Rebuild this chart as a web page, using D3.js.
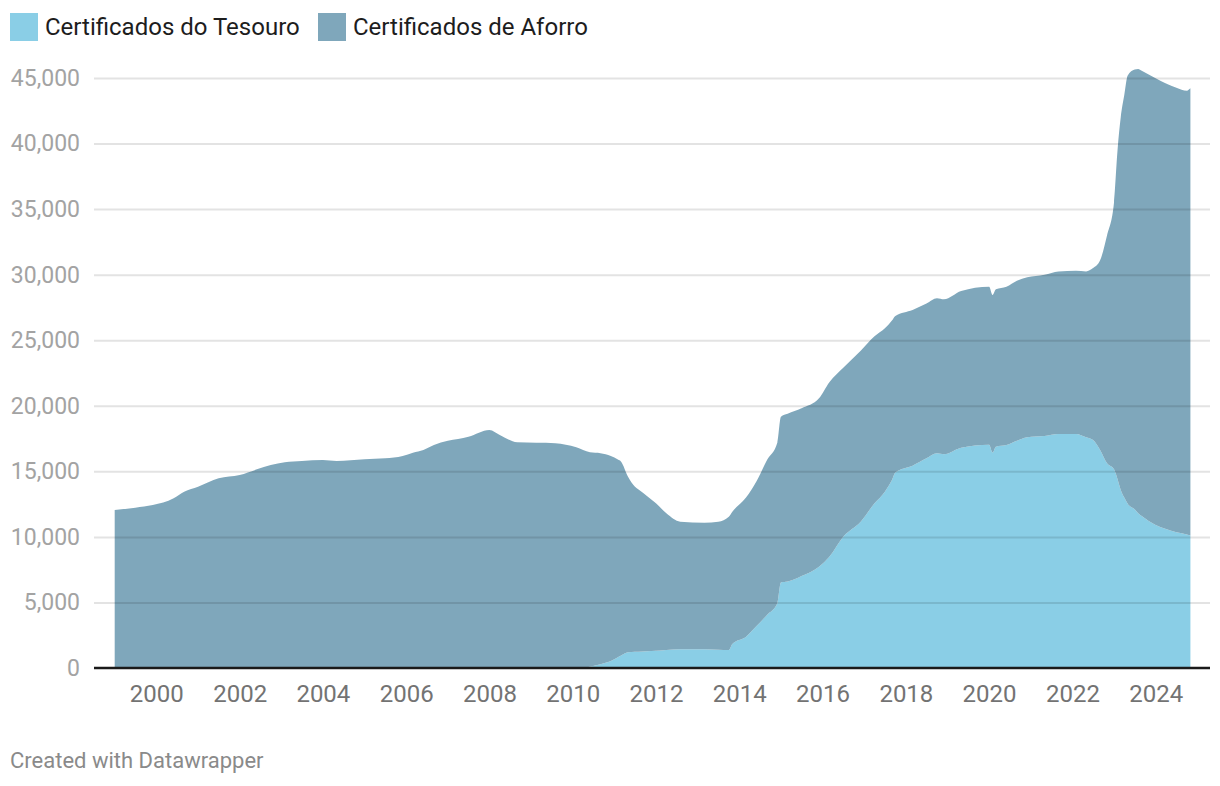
<!DOCTYPE html>
<html>
<head>
<meta charset="utf-8">
<script src="https://cdn.jsdelivr.net/npm/d3@7"></script>
<style>
  html, body { margin: 0; padding: 0; background: #fff; }
  svg { display: block; font-family: Roboto, "Noto Sans", sans-serif; }
</style>
</head>
<body>
<svg id="chart" width="1220" height="786"></svg>
<script>
// ---- data (millions of euros) ----
const dates = ["1999-01","1999-07","1999-12","2000-06","2000-09","2001-01","2001-07","2002-01","2002-06","2002-10",
  "2003-02","2003-07","2004-01","2004-05","2005-01","2005-07","2005-12","2006-03","2006-06","2006-09",
  "2007-01","2007-04","2007-07","2008-01","2008-04","2008-09","2009-08","2010-02","2010-06","2010-09",
  "2010-12","2011-02","2011-03","2011-05","2011-07","2011-08","2012-01","2012-04","2012-08","2013-03",
  "2013-07","2013-10","2013-11","2014-03","2014-06","2014-09","2014-12","2015-01","2015-03","2015-07",
  "2015-12","2016-03","2016-07","2016-12","2017-04","2017-07","2017-09","2017-10","2018-03","2018-07",
  "2018-10","2018-12","2019-05","2020-01","2020-02","2020-03","2020-06","2020-09","2020-12","2021-05",
  "2021-09","2022-02","2022-05","2022-07","2022-09","2022-11","2023-01","2023-02","2023-03","2023-04",
  "2023-05","2023-07","2023-08","2023-09","2024-01","2024-04","2024-07","2024-10","2024-11"];

const tesouro = [0,0,0,0,0,0,0,0,0,0,
  0,0,0,0,0,0,0,0,0,0,
  0,0,0,0,0,0,0,0,100,280,
  530,820,950,1200,1230,1240,1320,1380,1430,1430,
  1400,1370,1830,2390,3200,4040,4930,6520,6590,7020,
  7730,8490,10020,11160,12560,13450,14340,14920,15430,15990,
  16370,16300,16800,17030,16430,16880,17010,17340,17600,17700,
  17850,17850,17600,17390,16630,15610,15150,14400,13580,13000,
  12530,12100,11800,11600,10910,10600,10350,10180,10100];

const aforro = [12050,12230,12430,12940,13450,13830,14470,14720,15150,15480,
  15690,15790,15860,15790,15920,15990,16170,16420,16630,17010,
  17340,17470,17640,18150,17770,17210,17140,16830,16350,16100,
  15640,15080,14790,13390,12600,12380,11240,10420,9730,9650,
  9760,10170,10090,10610,11040,11820,12270,12650,12810,12790,
  12840,13310,12880,13040,12740,12460,12160,11930,11880,11810,
  11830,11820,11950,12050,12020,12000,12070,12200,12200,12300,
  12400,12450,12650,13110,14470,17390,20350,25100,28420,30700,
  32670,33550,33890,33960,34070,33990,33910,33850,34110];

const seriesNames = ["Certificados do Tesouro", "Certificados de Aforro"];
const seriesColors = ["#8acee6", "#7fa7bb"];
const yTicks = [0,5000,10000,15000,20000,25000,30000,35000,40000,45000];
const xTickYears = [2000,2002,2004,2006,2008,2010,2012,2014,2016,2018,2020,2022,2024];

// ---- build ----
const parse = d3.timeParse("%Y-%m");
const rows = dates.map((d, i) => ({ date: parse(d), tesouro: tesouro[i], aforro: aforro[i] }));
const keys = ["tesouro", "aforro"];
const stacked = d3.stack().keys(keys)(rows);

const svg = d3.select("#chart");

const x = d3.scaleTime()
  .domain(d3.extent(rows, d => d.date))
  .range([114.7, 1190.4]);
const y = d3.scaleLinear().domain([0, 45000]).range([668, 78]);

const area = d3.area()
  .x(d => x(d.data.date))
  .y0(d => y(d[0]))
  .y1(d => y(d[1]))
  .curve(d3.curveMonotoneX);

svg.append("g").selectAll("path")
  .data(stacked)
  .join("path")
  .attr("d", area)
  .attr("fill", (d, i) => seriesColors[i]);

// gridlines (drawn over areas, translucent)
const gAxisY = svg.append("g")
  .attr("transform", "translate(94,0)")
  .call(d3.axisRight(y).tickValues(yTicks.filter(v => v > 0)).tickSize(1210 - 94).tickFormat(""));
gAxisY.select(".domain").remove();
gAxisY.selectAll(".tick line").attr("stroke", "rgba(0,0,0,0.11)").attr("stroke-width", 2);

// y labels
const gLab = svg.append("g")
  .attr("transform", "translate(80,0)")
  .call(d3.axisLeft(y).tickValues(yTicks).tickSize(0).tickPadding(0).tickFormat(d3.format(",")));
gLab.select(".domain").remove();
gLab.selectAll("text")
  .attr("font-family", "Roboto, sans-serif")
  .attr("font-size", 23)
  .attr("fill", "#a3a3a3");

// baseline
svg.append("line")
  .attr("x1", 94).attr("x2", 1210)
  .attr("y1", y(0)).attr("y2", y(0))
  .attr("stroke", "#1a1a1a").attr("stroke-width", 2.5);

// x labels
const gX = svg.append("g")
  .attr("transform", "translate(0,685)")
  .call(d3.axisBottom(x).tickValues(xTickYears.map(yr => new Date(yr, 0, 1))).tickSize(0).tickPadding(0).tickFormat(d3.timeFormat("%Y")));
gX.select(".domain").remove();
gX.selectAll("text")
  .attr("font-family", "Roboto, sans-serif")
  .attr("font-size", 24)
  .attr("fill", "#737373")
  .attr("dy", "0.71em");

// legend
const legend = svg.append("g");
const legendX = [10, 318];
seriesNames.forEach((name, i) => {
  const g = legend.append("g").attr("transform", `translate(${legendX[i]},13)`);
  g.append("rect").attr("width", 28).attr("height", 28).attr("fill", seriesColors[i]);
  g.append("text").attr("x", 35).attr("y", 14).attr("dy", "0.35em")
    .attr("font-size", 24).attr("fill", "#1d1d1d").text(name);
});

// footer
svg.append("text").attr("x", 10).attr("y", 768)
  .attr("font-size", 22).attr("fill", "#8a8a8a")
  .text("Created with Datawrapper");
</script>
</body>
</html>
